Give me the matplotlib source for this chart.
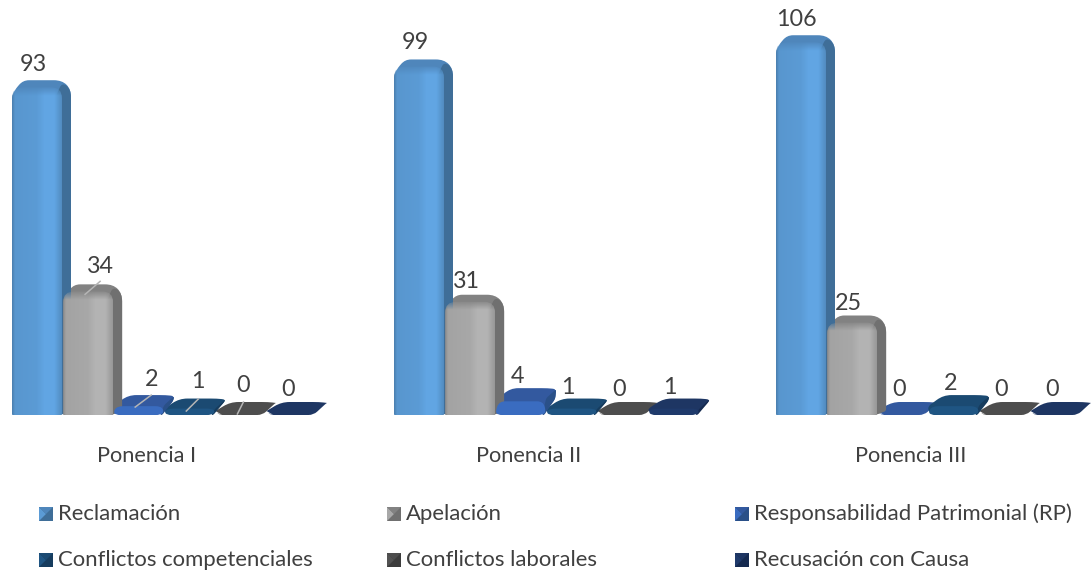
import numpy as np
import matplotlib
matplotlib.use("Agg")
import matplotlib.pyplot as plt
from matplotlib.colors import LinearSegmentedColormap, to_rgb
from matplotlib.patches import PathPatch
from matplotlib.path import Path

plt.rcParams['font.family'] = ['Lato', 'DejaVu Sans']

ponencias = ['Ponencia I', 'Ponencia II', 'Ponencia III']
tipos = ['Reclamación', 'Apelación', 'Responsabilidad Patrimonial (RP)',
         'Conflictos competenciales', 'Conflictos laborales', 'Recusación con Causa']
valores_i = [93, 34, 2, 1, 0, 0]
valores_ii = [99, 31, 4, 1, 0, 1]
valores_iii = [106, 25, 0, 2, 0, 0]

# front, top, side colours for each series
frente = ['#5b9bd5', '#a8a8a8', '#3a6cc0', '#1f5583', '#525252', '#1f3a6b']
arriba = ['#4f86bb', '#828282', '#33599f', '#1b4a72', '#4d4d4d', '#1e3663']
lado = ['#3f6e98', '#707070', '#2a5088', '#163c5e', '#3c3c3c', '#152a50']
texto = '#404040'

W, H = 1091, 573
ESCALA = 3.46       # pixels per unit
Y0 = 402            # pixel row of value 0, back edge of the top face
BASE = 415          # pixel row of the floor
GRUPO_X = [12, 394, 776]
PASO = 51.1

fig = plt.figure(figsize=(W / 100, H / 100), dpi=100)
ax = fig.add_axes([0, 0, 1, 1])


def fila(px):
    # pixel row to value units
    return (Y0 - px) / ESCALA


def redondeado(pts, radios):
    # closed path through pts with the corners cut by quadratic curves
    pts = [np.array(p, dtype=float) for p in pts]
    esc = np.array([1, ESCALA])
    n = len(pts)
    if np.isscalar(radios):
        radios = [radios] * n
    verts, codes = [], []
    for i in range(n):
        p, a, b = pts[i], pts[i - 1], pts[(i + 1) % n]
        da, db = (a - p) * esc, (b - p) * esc
        ra = min(radios[i], np.linalg.norm(da) / 2)
        rb = min(radios[i], np.linalg.norm(db) / 2)
        p1 = p + (a - p) * ra / np.linalg.norm(da)
        p2 = p + (b - p) * rb / np.linalg.norm(db)
        verts += [p1, p, p2]
        codes += [Path.MOVETO if i == 0 else Path.LINETO, Path.CURVE3, Path.CURVE3]
    verts.append(verts[0])
    codes.append(Path.CLOSEPOLY)
    return Path(np.array(verts), codes)


def relleno(path, color, z):
    ax.add_patch(PathPatch(path, facecolor=color, edgecolor='none', zorder=z))


def degradado(path, x0, x1, y0, y1, alto_px, c, z):
    # horizontal shading, fading out towards the top so the face melts into the bevel
    claro = np.minimum(c * 1.07, 1)
    cmap = LinearSegmentedColormap.from_list(
        'f', [(0, c * 0.82), (0.06, c * 0.97), (0.5, c), (0.66, claro),
              (0.85, claro), (1, c * 0.9)])
    filas = int(alto_px)
    img = np.repeat(cmap(np.linspace(0, 1, 128))[None, :, :], filas, axis=0)
    alfa = np.ones(filas)
    alfa[:9] = np.linspace(0.15, 1, 9)
    img[:, :, 3] = alfa[:, None]
    im = ax.imshow(img, extent=[x0, x1, y0, y1], aspect='auto', zorder=z, origin='upper')
    patch = PathPatch(path, facecolor='none', edgecolor='none', transform=ax.transData)
    ax.add_patch(patch)
    im.set_clip_path(patch)


def barra_alta(x, v, i):
    c = np.array(to_rgb(frente[i]))
    top = Y0 - v * ESCALA
    sil = [(x, fila(BASE)), (x, fila(top + 13)), (x + 11, v), (x + 50, v),
           (x + 59, fila(top + 9)), (x + 59, fila(BASE - 4)), (x + 48, fila(BASE))]
    relleno(redondeado(sil, [1, 9, 6, 8, 8, 2, 1]), arriba[i], 2)
    lat = [(x + 44, fila(BASE)), (x + 44, fila(top + 16)), (x + 50, fila(top + 2)),
           (x + 59, fila(top + 9)), (x + 59, fila(BASE - 4)), (x + 48, fila(BASE))]
    relleno(redondeado(lat, [0, 0, 6, 8, 2, 1]), lado[i], 2.1)
    fr = [(x, fila(BASE)), (x, fila(top + 7)), (x + 50, fila(top + 7)), (x + 50, fila(BASE))]
    degradado(redondeado(fr, [2, 11, 11, 2]), x, x + 50, fila(BASE), fila(top + 7),
              BASE - top - 7, c, 3)


def barra_baja(x, v, i):
    h = v * ESCALA
    top = Y0 - h
    sube = h * 0.7
    # v = 0 is only a flat lozenge in one colour
    sil = [(x + 3, fila(BASE)), (x - 1, fila(BASE - 4)), (x - 1, fila(BASE - 4 - sube)), (x + 14, v),
           (x + 52, v), (x + 60, fila(top + 1)), (x + 59, fila(top + 1 + sube)), (x + 46, fila(BASE))]
    relleno(redondeado(sil, [3, 3, 3, 8, 7, 3, 3, 5]), arriba[i], 2)
    if v > 0:
        lat = [(x + 46, fila(BASE)), (x + 50, fila(BASE - 3 - h)), (x + 60, fila(top + 1)),
               (x + 59, fila(top + 1 + sube)), (x + 48, fila(BASE))]
        relleno(redondeado(lat, 2), lado[i], 2.1)
        arr = BASE - 4 - sube
        fr = [(x + 2, fila(BASE)), (x - 1, fila(BASE - 3)), (x + 3, fila(arr)),
              (x + 47, fila(arr)), (x + 50, fila(BASE - 3)), (x + 46, fila(BASE))]
        relleno(redondeado(fr, 6), frente[i], 2.2)


series = [valores_i, valores_ii, valores_iii]
for g, vals in enumerate(series):
    for i, v in enumerate(vals):
        x = GRUPO_X[g] + i * PASO
        if v > 10:
            barra_alta(x, v, i)
        else:
            barra_baja(x, v, i)
    ax.text(GRUPO_X[g] + 135, fila(456), ponencias[g], ha='center', va='center',
            fontsize=15.7, color=texto)

# data labels, pixel offsets from the bar start and the value level
etiquetas_dx = [[21, 37, 37, 33, 27, 20.5], [21, 21, 21, 21, 21, 20.5], [20, 21, 21, 21, 21, 20.5]]
etiquetas_dy = [[16, 18, 16, 17.5, 16, 13], [16.5, 13, 12, 11.5, 13, 11.5], [16, 12.5, 13, 12, 13, 13]]
for g, vals in enumerate(series):
    for i, v in enumerate(vals):
        x = GRUPO_X[g] + i * PASO + etiquetas_dx[g][i]
        ax.text(x, v + etiquetas_dy[g][i] / ESCALA, str(v), ha='center', va='center',
                fontsize=16.8, color=texto, zorder=6)

# leader lines, only in the first group
lideres = [(22, 10, 37, -3), (21, 12, 37, 0), (21, 12.5, 33, 0.5), (21, 12, 27, 0)]
for i, (dx0, dy0, dx1, dy1) in enumerate(lideres, start=1):
    x = GRUPO_X[0] + i * PASO
    v = valores_i[i]
    ax.plot([x + dx0, x + dx1], [v - dy0 / ESCALA, v - dy1 / ESCALA], color='#b5b5b5', lw=1.1, zorder=5)

# legend, three columns and two rows
ley_x = [39, 387, 735]
ley_y = [514, 560]
for i, t in enumerate(tipos):
    lx, ly = ley_x[i % 3], ley_y[i // 3]
    ax.text(lx + 19, fila(ly), t, ha='left', va='center', fontsize=15.9, color=texto)
    x0, x1, y0, y1 = lx, lx + 14, fila(ly + 7), fila(ly - 7)
    xc, yc = (x0 + x1) / 2, (y0 + y1) / 2
    ax.fill([x0, x1, x1, x0], [y0, y0, y1, y1], color=lado[i], lw=0, zorder=2.9)
    ax.fill([x0, xc, x0], [y0, yc, y1], color=frente[i], lw=0, zorder=3)
    ax.fill([x0, x1, xc], [y1, y1, yc], color=arriba[i], lw=0, zorder=3)

ax.set_xlim(0, W)
ax.set_ylim(fila(H), fila(0))
ax.axis('off')
fig.savefig('out.png', dpi=100, facecolor='white')
